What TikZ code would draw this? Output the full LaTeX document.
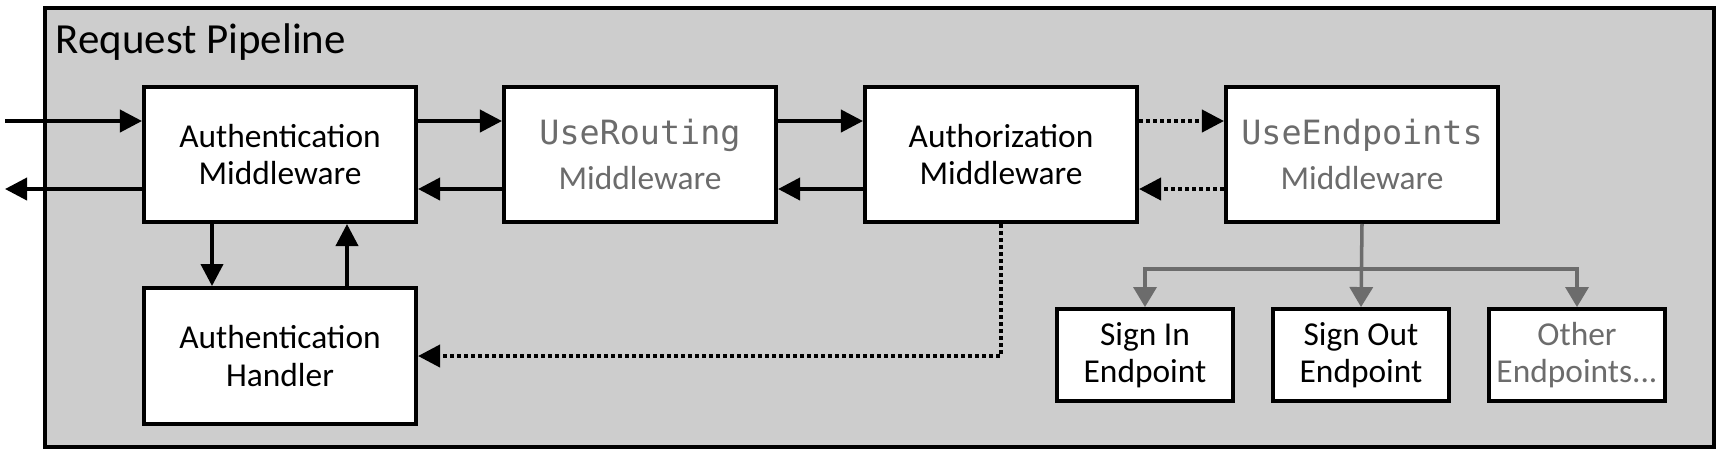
\documentclass[tikz,border=0pt]{standalone}
\usepackage{fontspec}
\setmainfont{Carlito}
\setmonofont{DejaVu Sans Mono}
\usetikzlibrary{arrows.meta}
\definecolor{pipebg}{RGB}{205,205,205}
\definecolor{softgray}{RGB}{108,108,108}

\begin{document}
\begin{tikzpicture}[x=0.01cm, y=-0.01cm,
		mw/.style={draw, line width=1.1pt, fill=white, minimum width=2.72cm, minimum height=1.35cm, inner sep=0pt, align=center, font=\fontsize{9.5}{10.6}\selectfont},
		mwgray/.style={mw, text=softgray},
		ep/.style={mw, minimum width=1.76cm, minimum height=0.92cm},
		arr/.style={line width=1.1pt, -{Triangle[length=0.22cm, width=0.22cm]}},
		dotarr/.style={arr, dash pattern=on 0.04cm off 0.03cm},
		grayarr/.style={line width=1pt, draw=softgray, -{Triangle[length=0.2cm, width=0.23cm, fill=softgray]}}]
		\useasboundingbox (0,0) rectangle (1724,453);

		\node[draw, line width=1.1pt, fill=pipebg, minimum width=16.68cm, minimum height=4.39cm, anchor=north west] (pipe) at (43,6) {};
		\node[anchor=base west, inner sep=0pt, font=\fontsize{12.2}{14}\selectfont] (title) at (55,53) {Request Pipeline};

		\node[mw] (authn) at (280,154.5) {Authentication\\Middleware};
		\node[mwgray] (routing) at (640,154.5) {\ttfamily UseRouting\\[2pt]Middleware};
		\node[mw] (authz) at (1001,154.5) {Authorization\\Middleware};
		\node[mwgray] (endpts) at (1362,154.5) {\ttfamily UseEndpoints\\[2pt]Middleware};
		\node[mw, minimum height=1.36cm] (handler) at (280,356) {Authentication\\Handler};

		\node[ep] (signin) at (1145,355) {Sign In\\Endpoint};
		\node[ep] (signout) at (1361,355) {Sign Out\\Endpoint};
		\node[ep, text=softgray] (other) at (1577,355) {Other\\Endpoints...};

		\coordinate (fwd) at (0,121);
		\coordinate (bwd) at (0,189);
		\coordinate (inlet) at (5,121);
		\coordinate (outlet) at (5,189);
		\coordinate (down) at (212,0);
		\coordinate (up) at (347,0);
		\coordinate (fork) at (0,269);

		\draw[arr] (inlet) -- (authn.west |- fwd);
		\draw[arr] (authn.west |- bwd) -- (outlet);
		\draw[arr] (authn.east |- fwd) -- (routing.west |- fwd);
		\draw[arr] (routing.west |- bwd) -- (authn.east |- bwd);
		\draw[arr] (routing.east |- fwd) -- (authz.west |- fwd);
		\draw[arr] (authz.west |- bwd) -- (routing.east |- bwd);
		\draw[dotarr] (authz.east |- fwd) -- (endpts.west |- fwd);
		\draw[dotarr] (endpts.west |- bwd) -- (authz.east |- bwd);

		\draw[arr] (authn.south -| down) -- (handler.north -| down);
		\draw[arr] (handler.north -| up) -- (authn.south -| up);
		\draw[dotarr] (authz.south) |- (handler.east);

		\draw[grayarr] (endpts.south) -- (signout.north);
		\draw[grayarr] (endpts.south |- fork) -| (signin.north);
		\draw[grayarr] (endpts.south |- fork) -| (other.north);
	\end{tikzpicture}
\end{document}
